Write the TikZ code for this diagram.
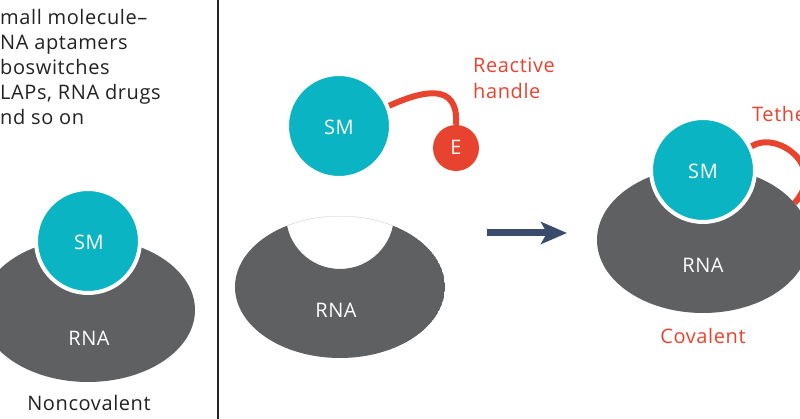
\documentclass[tikz,border=0pt]{standalone}
\usepackage{fontspec}
\setmainfont{Open Sans}[LetterSpace=3.0]
\usetikzlibrary{shapes.geometric,arrows.meta}
\definecolor{smteal}{HTML}{0AB4C2}
\definecolor{rnagray}{HTML}{5F6062}
\definecolor{hred}{HTML}{E8432F}
\definecolor{navyarrow}{HTML}{3A4B6C}
\definecolor{txtdark}{HTML}{222222}
\newcommand\lblfont{\fontsize{20}{25}\selectfont}
\tikzset{
  smball/.style={circle, fill=smteal, draw=white, line width=4pt, minimum size=104pt, inner sep=0pt, text=white, font=\lblfont},
  eball/.style={circle, fill=hred, minimum size=46pt, inner sep=0pt, text=white, font=\lblfont},
  rnablob/.style={ellipse, fill=rnagray, inner sep=0pt},
  whitetxt/.style={text=white, font=\lblfont, inner sep=0pt},
  darktxt/.style={text=txtdark, font=\lblfont, inner sep=0pt},
  redtxt/.style={text=hred, font=\lblfont, inner sep=0pt},
  linker/.style={draw=hred, line width=6pt},
}
\begin{document}
\begin{tikzpicture}[x=1pt,y=-1pt]
\useasboundingbox (0,0) rectangle (800,419);
\clip (0,0) rectangle (800,419);
% left panel text
\node[darktxt, anchor=base west] (l1) at (0,25) {mall molecule–};
\node[darktxt, anchor=base west] (l2) at (0,50) {NA aptamers};
\node[darktxt, anchor=base west] (l3) at (0,75) {boswitches};
\node[darktxt, anchor=base west] (l4) at (0,100) {LAPs, RNA drugs};
\node[darktxt, anchor=base west] (l5) at (0,125) {nd so on};
% divider
\coordinate (dtop) at (218,0);
\coordinate (dbot) at (218,419);
\draw[txtdark, line width=1.5pt] (dtop) -- (dbot);
% left: noncovalent complex
\node[rnablob, minimum width=214pt, minimum height=144pt] (rna1) at (88,310) {};
\node[smball] (sm1) at (88,241) {};
\node[whitetxt, anchor=base] (sm1t) at (89,250) {SM};
\node[whitetxt, anchor=base] (rna1t) at (89,345) {RNA};
\node[darktxt, anchor=base] (nc) at (89,410) {Noncovalent};
% middle: SM with reactive handle
\node[smball] (sm2) at (339,126) {};
\node[whitetxt, anchor=base] (sm2t) at (339,135) {SM};
\node[eball] (e2) at (456,148) {};
\node[whitetxt, anchor=base] (e2t) at (456,155) {E};
\draw[linker] (sm2.22) .. controls (420,92) and (459,80) .. (e2.north);
\node[redtxt, anchor=base west] (rh1) at (473,73) {Reactive};
\node[redtxt, anchor=base west] (rh2) at (473,99) {handle};
% middle: RNA with pocket
\begin{scope}
  \clip (340,287) ellipse [x radius=105pt, y radius=71pt];
  \fill[rnagray, even odd rule] (340,287) ellipse [x radius=105pt, y radius=71pt]
       (340,215) circle [radius=54pt];
\end{scope}
\node[whitetxt, anchor=base] (rna2t) at (336,318) {RNA};
% arrow
\coordinate (a0) at (487,233);
\coordinate (a1) at (567,233);
\draw[navyarrow, line width=7pt, -{Stealth[length=26pt,width=22pt,inset=6pt]}] (a0) -- (a1);
% right: covalent complex
\node[rnablob, minimum width=212pt, minimum height=146pt] (rna3) at (703,240) {};
\node[smball] (sm3) at (703,170) {};
\node[whitetxt, anchor=base] (sm3t) at (703,179) {SM};
\draw[linker] (sm3.26) .. controls (776,130) and (828,166) .. (rna3.22);
\node[whitetxt, anchor=base] (rna3t) at (703,273) {RNA};
\node[redtxt, anchor=base] (cov) at (703,344) {Covalent};
\node[redtxt, anchor=base west] (teth) at (752,122) {Tethe};
\end{tikzpicture}
\end{document}
